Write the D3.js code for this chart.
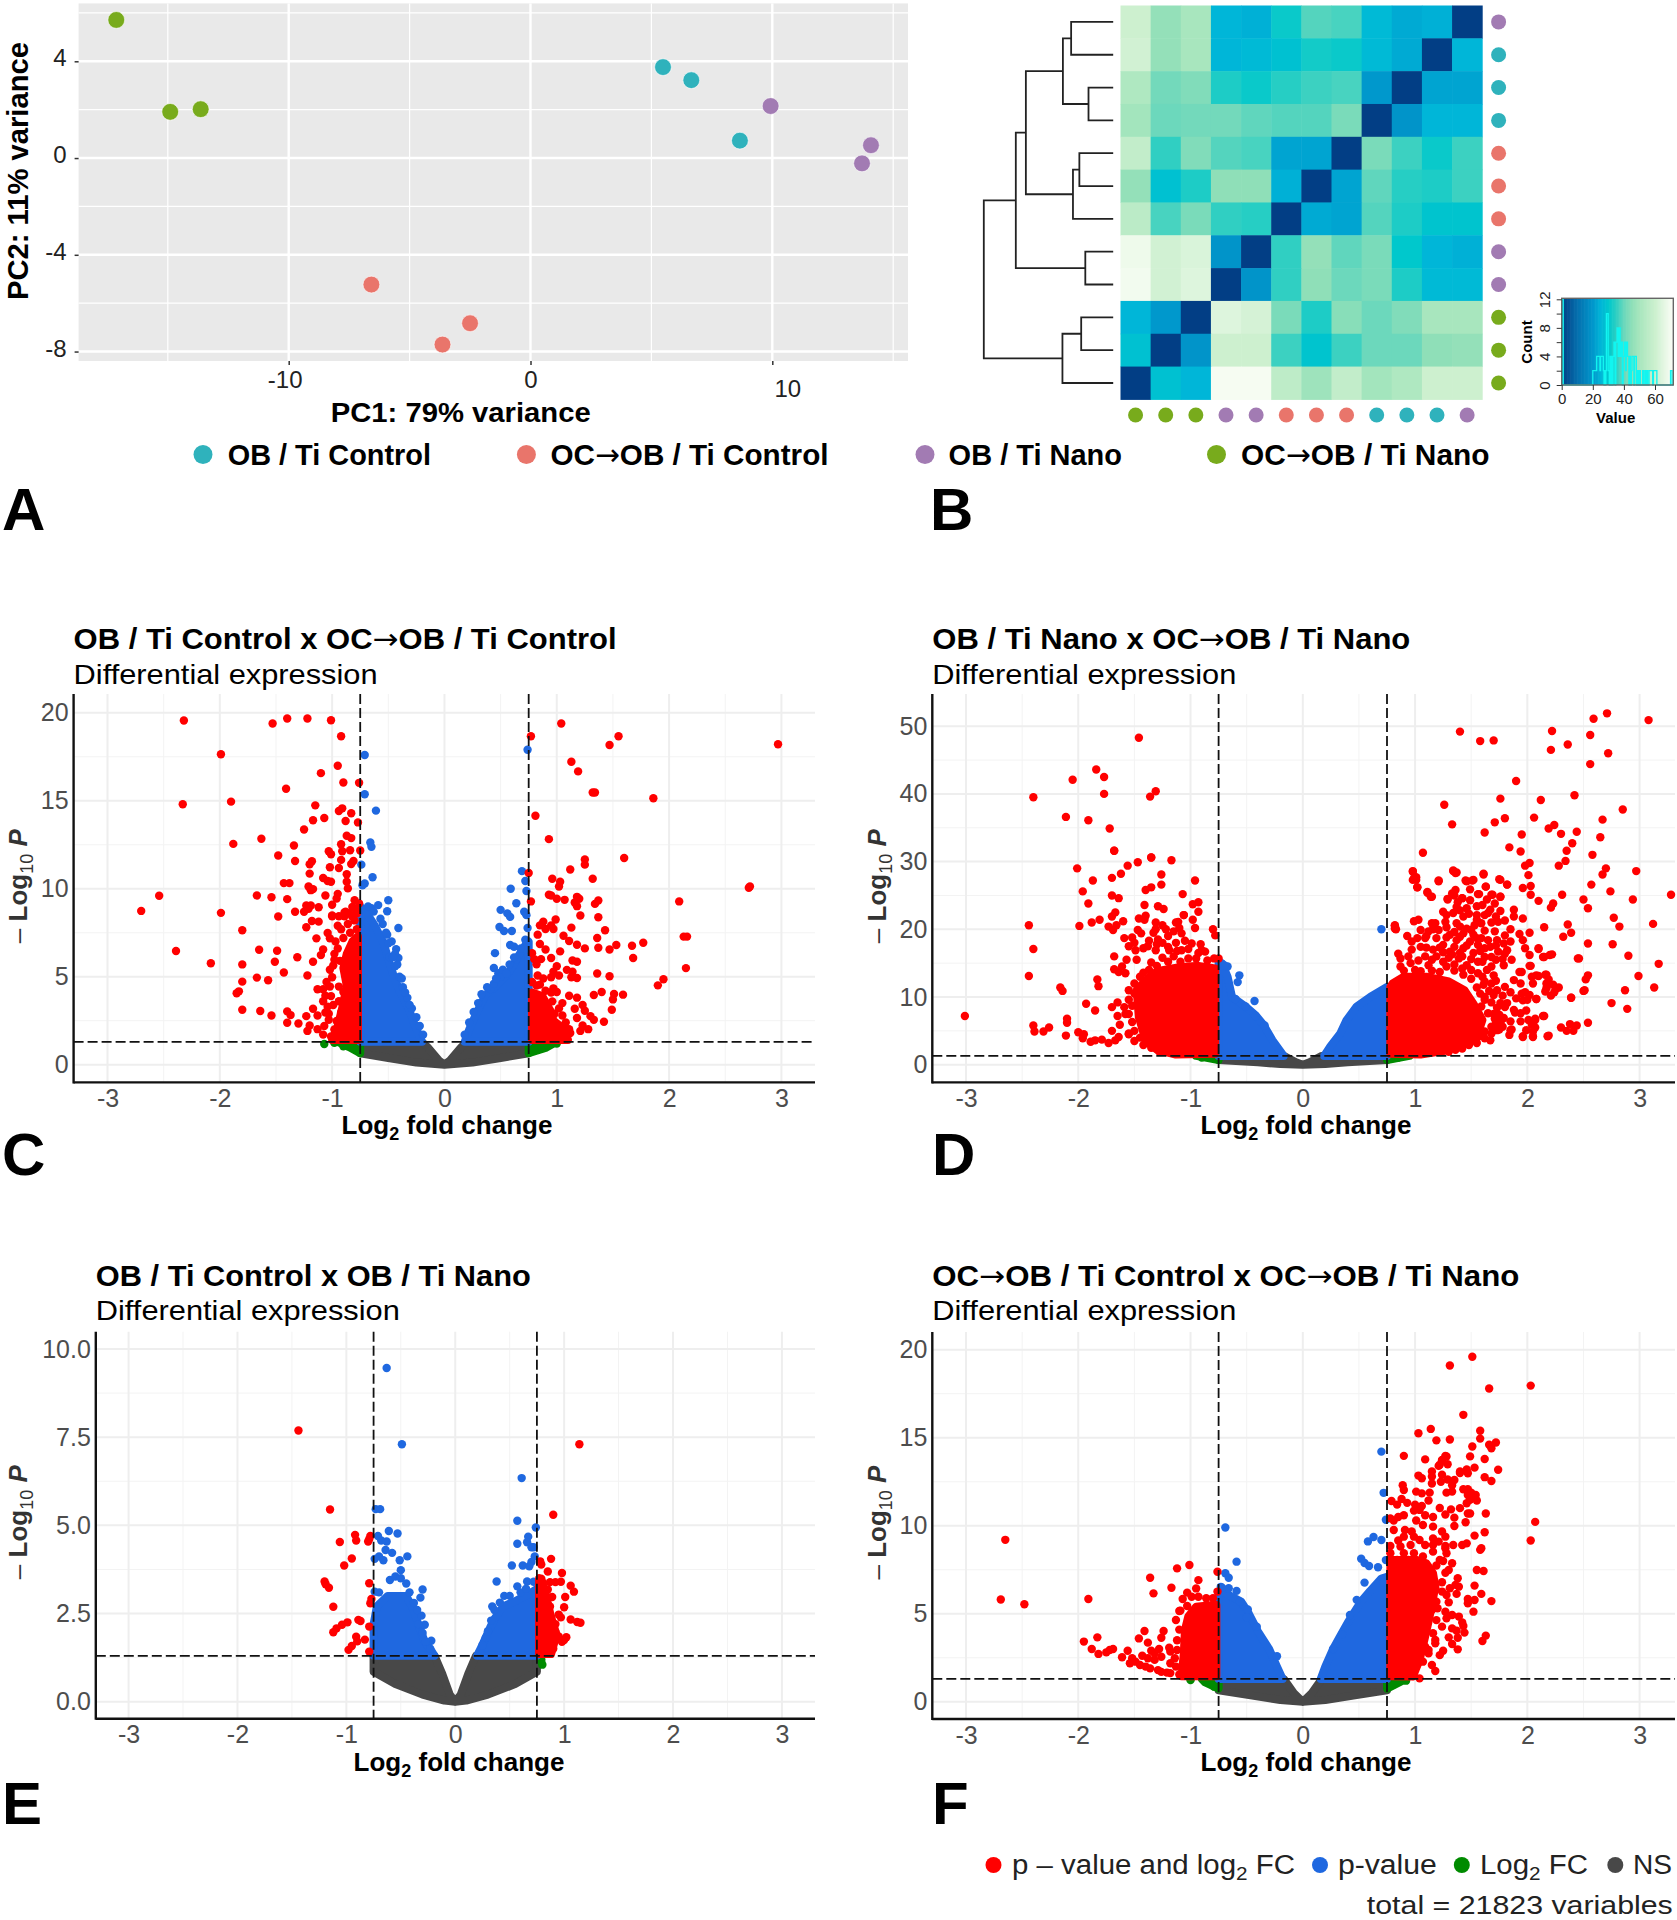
<!DOCTYPE html>
<html><head><meta charset="utf-8">
<script src="https://cdn.jsdelivr.net/npm/d3@7"></script>
<style>html,body{margin:0;padding:0;background:#fff}svg{display:block}text{font-family:"Liberation Sans",Arial,sans-serif}</style>
</head><body><svg id="fig" width="1677" height="1920"></svg>
<script>
// ---------- Panel A data ----------
const groupNames = ["OB / Ti Control","OC→OB / Ti Control","OB / Ti Nano","OC→OB / Ti Nano"];
const groupColors = ["#2FB2BC","#E9756B","#A27BB3","#78AB1C"];
const pcaGroup = [3,3,3,0,0,0,2,2,2,1,1,1];
const pc1 = [-17.13,-14.9,-13.64,5.48,6.65,8.66,9.93,14.08,13.71,-6.58,-2.5,-3.64];
const pc2 = [5.71,1.91,2.02,3.76,3.22,0.72,2.15,0.53,-0.22,-5.23,-6.83,-7.71];
const pcaXTicks = [-10,0,10];
const pcaYTicks = [-8,-4,0,4];
const pcaXMinor = [-15,-5,5,15];
const pcaYMinor = [-6,-2,2,6];
// ---------- Panel B data ----------
const heatRows = [
 [60,46,50,25,24,31,38,37,26,23,24,0],
 [61,46,50,25,26,28,32,31,26,23,0,25],
 [52,41,43,33,31,34,36,37,20,0,22,22],
 [49,40,41,41,39,38,38,42,0,19,25,25],
 [57,35,43,38,37,22,22,0,42,36,31,36],
 [46,28,33,45,45,24,0,22,39,34,33,36],
 [55,37,42,35,34,0,23,22,38,33,29,29],
 [68,61,63,19,0,35,46,39,42,30,25,24],
 [69,61,64,0,19,35,45,40,42,33,26,26],
 [25,20,0,64,62,42,33,44,40,43,50,50],
 [28,0,19,60,60,36,29,36,40,40,45,46],
 [0,28,25,70,70,56,48,57,49,52,60,60]];
const rowGroups = [2,0,0,0,1,1,1,2,2,3,3,3];
const colGroups = [3,3,3,2,2,1,1,1,0,0,0,2];
const heatStops = [0,10,20,25,30,35,40,45,50,60,70];
const heatColors = ["#023E85","#0570AE","#0098CC","#00B6D8","#00C8CC","#30CFC2","#6CD8BC","#8FDFB8","#A8E6BE","#CDF0CF","#F6FCF2"];
const dendroMerges = [["a",0,1,92],["b",2,3,54],["ab","a","b",110],["c",4,5,74],["d","c",6,88],["abd","ab","d",191],["e",7,8,61],["abde","abd","e",213],["f",9,10,70],["g","f",11,111],["root","abde","g",283]];
const keySteps = [[0,12],[1,0],[20,2],[22.5,4],[24.6,2],[25,4],[26.8,2],[27.2,0],[27.6,2],[28,0],[28.4,2],[28.8,10],[29.9,2],[30.6,0],[31,4],[31.5,0],[32,4],[32.5,0],[33,4],[33.6,6],[34.3,0],[34.8,6],[35.6,8],[36.3,4],[37,8],[37.6,4],[38.4,6],[39,0],[39.5,4],[40.2,6],[41,2],[41.5,6],[42.3,4],[43.2,0],[43.6,4],[44.2,0],[44.8,2],[45.2,4],[46.4,0],[46.8,4],[48,0],[48.6,2],[49.2,0],[50,2],[50.6,0],[52,2],[52.5,0],[53.4,2],[53.9,0],[54.7,2],[55.3,0],[56.2,2],[58.5,0],[59,2],[61.2,0],[70,2],[71,0]];
const keyXTicks = [0,20,40,60];
const keyYTicks = [0,4,8,12];
const keyYMinor = [2,6,10];
// ---------- Volcano C ----------
const cRed = [[-2.32,19.56],[-1.53,19.39],[-1.4,19.68],[-1.22,19.68],[-1.01,19.58],[-.92,18.67],[-1.99,17.64],[-.95,16.99],[-1.1,16.57],[-.9,16.04],[-.76,16.02],[-1.41,15.68],[-2.33,14.8],[-1.9,14.95],[-1.15,14.74],[-.94,14.42],[-.91,14.57],[-.83,14.29],[-1.07,14.02],[-1.17,13.89],[-.88,13.85],[-.77,13.77],[-1.25,13.37],[-.87,13.01],[-.83,12.88],[-1.63,12.84],[-1.88,12.55],[-1.34,12.46],[-.92,12.53],[-1.03,12.13],[-1.01,11.96],[-.91,12.13],[-.84,12.19],[-.75,12.17],[-1.48,11.89],[-1.33,11.58],[-1.18,11.56],[-1.2,11.39],[-.92,11.64],[-.81,11.58],[-.83,11.41],[-1.02,11.22],[-.94,11.18],[-1.2,10.86],[-.87,10.82],[-1.08,10.61],[-1.04,10.44],[-1.01,10.4],[-1.43,10.32],[-1.38,10.32],[-.87,10.4],[-1.21,10.13],[-1.17,9.98],[-.86,10.02],[-1.19,9.92],[-2.54,9.6],[-1.67,9.62],[-1.54,9.52],[-1.4,9.41],[-1.06,9.62],[-.95,9.71],[-.96,9.45],[-.8,9.35],[-1,9.09],[-2.7,8.74],[-1.99,8.63],[-1.48,8.42],[-1.23,9.05],[-1.19,9.05],[-1.12,8.95],[-1.33,8.69],[-1.25,8.69],[-1.21,8.86],[-.88,8.69],[-.82,8.96],[-.76,9.17],[-1,8.48],[-.89,8.44],[-.85,8.59],[-.79,8.8],[-1.8,7.64],[-2.39,6.46],[-2.08,5.77],[-1.65,6.53],[-1.49,6.48],[-1.31,6.11],[-1.51,5.85],[-1.8,5.7],[-1.43,5.24],[-1.8,4.72],[-1.67,4.95],[-1.57,4.8],[-1.83,4.17],[-1.85,4.06],[-1.8,3.12],[-1.64,3.05],[-1.54,2.8],[-1.4,3.03],[-1.37,2.82],[-1.4,2.38],[-1.3,2.34],[-1.23,2.76],[-1.2,2.23],[-1.22,1.92],[-1.13,2.02],[-1.08,1.71],[-1.01,1.6],[-1.23,7.81],[-1.14,7.18],[-1.04,7.49],[-1.02,7.18],[-1.08,6.55],[-1.1,6.23],[-1.18,8.17],[-1.12,8.13],[-1,8.44],[-.94,8.44],[-.89,8.65],[-1.17,5.85],[-.98,5.96],[-.99,5.64],[-1.22,5.07],[-1.13,4.29],[-1.08,4.29],[-1,4.97],[-1.02,4.44],[-1.06,3.92],[-.94,4.44],[-.9,4.13],[-1.08,3.61],[-.99,3.39],[-1.17,3.18],[-1.13,2.8],[-1.06,2.97],[-.94,3.61],[-.92,2.97],[-1.03,2.55],[-.96,2.48],[-.95,7.9],[-.86,8],[-.8,8.2],[-.78,7.7],[-.84,7.5],[-.9,7.2],[-.95,6.6],[-.78,8.6],[-.82,8.4],[-.92,7.7],[-.97,7],[-.98,6.3],[-.93,5.9],[-1.02,5.4],[-1.05,4.7],[-1.01,3.9],[-1.04,3.3],[-1.03,2.9],[-1.07,2.2],[-.98,2],
 [1.04,19.39],[.77,18.67],[1.55,18.67],[1.47,18.17],[2.97,18.21],[1.13,17.22],[1.19,16.67],[1.32,15.47],[1.34,15.47],[1.86,15.14],[.81,14.15],[.93,12.82],[1.6,11.75],[1.25,11.66],[1.25,11.37],[1.12,11.09],[.75,10.9],[.96,10.57],[1.32,10.57],[1.03,10.4],[1.02,10.13],[2.72,10.13],[2.71,10.06],[.93,9.66],[.95,9.62],[1,9.43],[1.07,9.37],[1.18,9.54],[1.2,9.43],[1.16,9.22],[1.18,9.01],[1.21,8.48],[1.37,9.33],[1.34,9.14],[1.37,8.38],[.77,9.28],[2.09,9.28],[.99,8.25],[.95,7.92],[.88,8.13],[.85,7.92],[.97,7.71],[.9,7.71],[.83,7.39],[1.13,7.79],[1.43,7.64],[1.06,7.33],[1.11,7.03],[1.36,7.2],[2.13,7.28],[2.16,7.28],[1.77,6.93],[1.53,6.8],[1.67,6.76],[1.18,6.82],[1.25,6.61],[1.37,6.65],[1.47,6.55],[.78,6.34],[.85,6.86],[.9,6.55],[1.03,6.44],[.95,6.06],[.82,5.71],[1.14,5.92],[1.18,5.85],[1.68,6.06],[2.15,5.49],[1.36,5.18],[1.47,5.03],[1.95,4.86],[1.9,4.51],[1,5.6],[.97,5.28],[1.09,5.39],[1.14,5.28],[.95,4.97],[.83,5.07],[1.02,5.07],[1.13,4.97],[1.18,4.93],[.85,4.55],[.97,4.34],[1,4.13],[1.11,3.92],[1.18,3.81],[1.4,4.13],[1.33,3.96],[1.51,4.02],[1.5,3.71],[1.59,3.98],[1.49,3.12],[1.23,3.39],[1.25,3.07],[1.16,3.18],[1.3,2.76],[1.33,2.55],[1.42,2.44],[1.18,2.65],[1.23,2.23],[1.28,2.02],[1.21,1.92],[1.11,2.02],[1.05,2.8],[1.08,2.4],[1.12,1.8],[1.02,3.2],[.96,3.6],[.9,4.2],[.82,4.5],[.78,4.7],[.95,4.1],[.88,4.9],[.98,2.9],[1.05,3.5],[.8,6],[.86,6]];
const cBlue = [[-.61,14.44],[-.71,17.6],[-.71,15.37],[-.66,12.63],[-.65,12.38],[-.74,11.37],[-.64,10.65],[-.71,10.3],[-.73,10.2],[-.5,9.35],[-.59,9.07],[-.51,8.72],[-.65,8.9],[-.41,7.77],[-.51,7.39],[-.43,6.57],[-.41,6.06],[-.49,6.12],[-.44,5.6],[-.57,8.3],[-.52,7.5],[-.47,7],[-.44,6.3],[-.42,5.7],[-.4,5],[-.37,4.4],[-.33,3.8],[-.29,3.2],[-.25,2.7],[-.22,2.2],[-.19,1.7],[-.55,8],[-.63,8.7],[-.68,9],[-.5,6.9],[-.46,6.1],[-.38,4.9],[-.35,4.1],[-.31,3.4],
 [.69,11],[.72,10.44],[.73,9.87],[.59,10],[.64,9.18],[.5,8.8],[.56,8.6],[.585,8.4],[.71,8.69],[.73,8.5],[.49,7.83],[.53,7.6],[.6,7.6],[.74,7.77],[.585,6.8],[.45,6.34],[.64,6],[.62,6.7],[.44,5.5],[.48,5.2],[.41,4.3],[.74,17.9],[.18,1.7],[.22,2.4],[.26,3],[.3,3.5],[.33,4],[.38,4.4],[.44,4.6],[.5,5],[.52,5.4],[.58,5.7],[.62,6.1],[.68,6.6],[.72,7.1],[.46,4.9],[.55,5.2]];
const cGreen = [[-1.07,1.18],[-.98,1.24],[-.9,1.05],[1,1.2],[.92,1.1]];
const cRedMass = [[[-.77,1.4],[-1,1.4],[-.95,2.2],[-.9,3.5],[-.87,4.5],[-.9,5.5],[-.87,6.3],[-.82,7],[-.77,7.3]],[[.78,1.4],[1.1,1.4],[1.07,2],[.97,2.5],[.95,3],[.87,3.9],[.78,4.1]]];
const cBlueMass = [[[-.75,1.3],[-.2,1.3],[-.26,2.2],[-.32,3.2],[-.4,4.2],[-.46,5.2],[-.5,6],[-.54,6.9],[-.62,7.9],[-.68,8.5],[-.75,9]],[[.18,1.3],[.22,2],[.29,3],[.36,3.9],[.46,4.5],[.54,5],[.6,5.5],[.66,6.2],[.72,6.8],[.75,7],[.75,1.3]]];
const cGreenMass = [[[-.75,1.3],[-.95,1.3],[-.85,1],[-.75,.65]],[[.75,1.3],[1,1.3],[.9,.95],[.75,.65]]];
const cGrayMass = [[[-.75,1.3],[-.2,1.3],[-.15,1],[-.05,.25],[0,0],[.05,.25],[.15,1],[.2,1.3],[.75,1.3],[.75,.65],[.5,.38],[.25,.12],[0,0],[-.25,.12],[-.5,.38],[-.75,.65]]];
// ---------- Volcano D ----------
const dRed = [[1.4,49.2],[1.58,47.8],[1.7,47.9],[2.22,49.3],[2.59,51.1],[2.71,51.9],[3.08,50.9],[2.56,48.7],[2.36,47.3],[2.21,46.5],[2.72,46],[2.56,44.4],[1.9,41.9],[2.42,39.8],[1.76,39.3],[2.12,39.1],[1.26,38.4],[2.85,37.7],[2.06,36.5],[1.8,36.4],[1.71,35.8],[2.67,36.2],[1.33,35.5],[2.24,35.4],[2.19,34.9],[1.62,34.3],[2.44,34.4],[2.3,34.1],[1.95,34],[2.65,33.6],[2.4,32.7],[1.84,32.1],[2.35,31.6],[1.94,31.5],[1.07,31.3],[2.58,31],[2.34,30.1],[2.28,29.4],[2.02,29.8],[1.98,29.4],[2.7,29],[2.97,28.6],[1.34,28.6],[1.36,28.3],[.98,28.5],[1.61,28.1],[2.67,28.1],[.99,27.5],[1.01,27.3],[2.01,28],[1.21,27.1],[1.46,27.1],[1.51,27.2],[1.76,27.3],[1.82,26.6],[1.63,26.3],[1.96,26.1],[2.03,26.4],[2.57,26.6],[1.02,26.2],[2.74,25.6],[3.28,25.1],[1.56,25.2],[1.69,25.1],[1.76,24.8],[1.11,25.5],[1.15,24.8],[2.03,25.1],[2.31,25.1],[1.29,24.5],[1.35,25],[1.42,24.6],[2.1,24.2],[2.5,24.4],[2.94,24.4],[2.54,23.1],[2.23,23.8],[2.21,23.2],[2.77,21.7],[3.12,20.8],[2.36,20.7],[2.82,20.4],[2.15,20.3],[.82,20.5],[.83,20],[2.39,19.5],[2.32,18.9],[2.02,19.5],[2.76,17.8],[2.54,17.9],[2.1,17.2],[2.9,16.1],[2.46,15.7],[2.2,16.2],[2.15,15.9],[3.17,14.9],[2.03,14.6],[2.54,13.2],[2.52,12.6],[2.99,13.1],[1.93,13.7],[2.08,13.2],[2.17,13.3],[2.19,12.6],[3.13,11.4],[2.87,11],[2.5,10.9],[2.26,11.3],[2.17,11.3],[2.24,10.7],[2.39,9.9],[2.75,9.1],[2.89,8.25],[2.08,9.7],[1.98,10.7],[1.96,9.5],[2.54,6.2],[2.38,6],[2.3,5.5],[2.35,5],[2.44,5.8],[2.41,5],[2.15,7.2],[2.07,6.6],[2.07,5.5],[2.05,4.2],[1.96,4.2],[1.84,4.4],[2.18,4.2],[1.99,8],[1.89,7.7],[1.79,6.9],[1.75,5.2],[1.86,5.2],
 [.98,28.6],[.98,27.3],[1.01,27.7],[1.02,26.2],[1.21,27.2],[1.34,28.7],[1.37,28.4],[1.45,27.2],[1.52,27.3],[1.61,28.2],[1.75,27.4],[1.82,26.6],[1.11,25.4],[1.14,24.8],[1.36,25.8],[1.33,25.3],[1.29,24.4],[1.49,25.9],[1.63,26.3],[1.57,25.2],[1.68,25.1],[1.76,24.8],[1.42,24.6],[1.49,24.3],[1.25,22.6],[1.28,22.1],[1.37,23.3],[1.46,23.1],[1.6,23.6],[1.71,23.8],[1.67,22.9],[1.76,22.7],[1.88,22.9],[1.55,22.1],[1.62,22.1],[1.43,21.9],[1.34,22.4],[.82,20.6],[.82,20.1],[.99,21.2],[1.03,21.4],[1.15,20.9],[1.18,20.9],[1.28,20.3],[1.37,20.9],[1.46,20.1],[1.53,20.6],[1.59,20.9],[1.74,21.1],[1.8,21.3],[1.88,21.9],[1.96,21.6],[1.05,19.9],[1.12,19.7],[1.21,19.9],[1.31,19.2],[1.43,19.4],[1.52,19.2],[1.59,18.7],[1.71,19.7],[1.09,18.7],[1.19,18.7],[1.25,17.7],[1.37,18.4],[1.49,18.2],[1.56,17.7],[1.67,17.4],[1.79,17.9],[1.85,18.2],[.97,18.2],[.97,17],[1.05,17.4],[1.16,17],[1.31,16.7],[1.43,17.2],[1.52,16.5],[1.62,15.9],[1.74,16.7],[.85,16.4],[.87,15.7],[.94,16],[1.09,16],[1.19,16],[1.25,15.2],[1.39,15.7],[1.46,14.7],[1.56,15.2],[1.68,14.5],[1.82,16.9],[1.96,18.4],[1.98,17.2],[2.02,16.2],[.87,14.5],[.96,15],[1.12,14.7],[1.28,14.5],[1.43,13.3],[1.56,13.5],[1.64,14],[1.79,14.7],[1.86,15.5],[2.1,17.1],[2.14,15.9],[2.22,16.3],[2.02,14.6],[2.45,15.7],[1.95,13.7],[2.04,13],[2.1,13.1],[2.16,13.3],[1.94,12],[2.05,12],[2.17,12],[2.23,11.8],[2.28,11.4],[1.61,11.8],[1.68,12],[1.73,11],[1.8,11.5],[1.88,12.5],[1.95,10.5],[2.02,10.3],[2.16,10.8],[2.21,10.2],[2,9.6],[2.08,9.7],[2.39,9.9],[2.51,11],[1.76,9.1],[1.82,9.1],[1.88,8.1],[1.94,7.6],[2.14,7.2],[2.07,6.8],[2.01,6.6],[2.04,5.9],[1.77,6.6],[1.85,6.4],[1.85,5.1],[1.94,6.4],[1.99,5.1],[2.05,4.9],[1.96,4.1],[2.05,4.1],[2.19,4.3],[1.73,5.1],[1.67,3.6],[1.59,4.4],[1.52,4.1],[1.48,2.9],[1.36,2.2],
 [.9,13.9],[1,14],[1.05,13.8],[1.15,13.9],[1.22,13.7],[1.35,13.9],[1.42,14.2],[1.5,14],[1.6,13],[1.7,13.2],[1.35,14.8],[1.5,15.6],[1.6,15.2],[1.72,15.5],[1.03,15.4],[1.15,15.5],[1.3,15.8],[1.42,16],[1.33,16.3],[1.25,16.6],[1.4,16.5],[1.58,16.8],[1.68,15.9],[1.78,15.6],[1.1,17.3],[1.22,17.3],[1.35,17.4],[1.46,17.6],[1.62,17.2],[1.72,17.6],[1.4,18.9],[1.28,18.8],[1.55,18.7],[1.65,18.4],[1.35,19.6],[1.5,19.9],[1.62,19.8],[1.4,20.4],[1.27,21.1],[1.55,21.4],[1.68,21],[1.48,22.3],[1.4,22.8],[1.65,22.4],[1.72,21.9],[1.38,24],[1.55,23.4],[1.64,24.4],[1.1,19],[1.16,20],[.93,19],[1.02,18.7],[1.8,16.4],[1.73,18.4],[1.8,19.1],[1.93,19.3],[1.85,20],[1.58,10.5],[1.62,9.6],[1.59,8.6],[1.65,7.6],[1.71,6.8],[1.68,5.6],[1.62,4.9],[1.56,4.1],[1.49,3.4],[1.37,2.7],[1.25,2.2],[1.62,10],[1.68,9.2],[1.73,8.4],[1.7,7.5],[1.75,7.4],[1.8,8.5],[1.66,10.9],[1.7,10.3],[1.78,10.2],[1.85,10.7],[1.9,9.8],[1.72,6],[1.78,5.6],[1.68,4.6],[1.62,3.9],[1.55,3.2],[1.42,2.4],[1.3,1.9],[1.5,12.7],[1.62,12.3],[1.72,12.4],[1.55,11.4],
 [-3.01,7.2],[-2.44,20.6],[-2.4,17.1],[-2.44,13.1],[-2.16,11.4],[-2.14,10.9],[-1.83,12.6],[-1.82,11.6],[-1.93,9],[-1.85,8],[-2.1,6.8],[-2.1,6.2],[-2.4,5.8],[-2.39,4.9],[-2.31,4.9],[-2.26,5.5],[-2.11,4.3],[-2,4.8],[-1.95,4.5],[-1.96,3.9],[-1.89,3.4],[-1.85,3.6],[-1.79,3.7],[-1.73,3.2],[-1.67,3.6],[-1.64,4.1],[-1.55,4.6],[-1.7,5],[-1.63,5.9],[-1.7,8.5],[-1.65,9.2],[-1.59,8.5],[-1.58,7.5],[-1.65,7.2],[-1.68,16],[-1.57,15.5],[-1.48,15.5],[-1.68,14.1],[-1.61,14.5],[-1.58,13.5],[-1.64,13.7],[-1.59,18.7],[-1.52,18.8],[-1.47,19.9],[-1.44,19.4],[-1.37,18.3],[-1.29,18.5],[-1.49,16.9],[-1.42,17.2],[-1.31,16.9],[-1.19,16.9],[-1.08,16.9],[-1.13,18],[-1.08,19.4],[-.99,17.9],[-.91,17.8],[-.87,16.7],[-.93,16.5],[-1.02,15.7],[-1.09,15.2],[-.79,15.7],[-.75,15.7],[-1.99,20.5],[-1.88,21],[-1.81,21.4],[-1.73,20.4],[-1.69,19.9],[-1.66,20.6],[-1.6,21.2],[-1.7,21.9],[-1.67,22.5],[-1.46,21.6],[-1.41,21.4],[-1.4,22],[-1.31,21],[-1.31,20],[-1.25,20.6],[-1.22,20],[-1.13,21],[-1.11,21.1],[-1.06,22.1],[-.98,21.4],[-.96,20.2],[-.8,20],[-.78,19.1],[-1.91,23.8],[-1.96,25.6],[-1.87,27.2],[-2.01,29],[-1.7,25],[-1.64,24.6],[-1.7,27.6],[-1.62,28.2],[-1.56,29.4],[-1.47,29.9],[-1.35,30.6],[-1.17,30.2],[-1.68,31.6],[-1.4,25.8],[-1.35,26.2],[-1.26,28.1],[-1.26,26.6],[-1.41,23.6],[-1.29,23.4],[-1.24,23],[-1.07,25.2],[-.96,27.2],[-.98,23.7],[-.93,24],[-.93,22.6],[-1.06,22.1],[-1.46,48.3],[-1.84,43.6],[-1.77,42.5],[-2.05,42.1],[-1.77,40],[-1.31,40.4],[-1.36,39.6],[-2.4,39.5],[-2.11,36.6],[-1.91,36.1],[-1.72,34.9],[-1.68,31.6],[-1.35,30.6],
 [-1.5,5],[-1.52,6.3],[-1.55,7.5],[-1.52,8.7],[-1.55,9.6],[-1.5,10.5],[-1.55,11],[-1.5,12],[-1.45,13],[-1.37,14],[-1.42,13.6],[-1.3,14.6],[-1.2,15.2],[-1.35,15.1],[-1.25,15.8],[-1.15,16],[-1.45,4],[-1.4,3.2],[-1.35,2.5],[-1.28,2],[-1.5,3.5],[-1.55,4.5],[-1.42,2.9],[-1.2,17.4],[-1.3,17.8],[-1.38,17.5],[-1.25,18],[-1.05,18.3],[-1.02,17.1],[-.9,16.9],[-.95,15.7],[-.85,15.4],[-1.12,16.8],[-1.2,19],[-1.33,19.5],[-1.5,18],[-1.55,17.5],[-1.1,20.2],[-1.15,19.7]];
const dBlue = [[.7,20],[-.67,14.5],[-.565,13.2],[-.58,12.2],[-.43,9.4],[-.6,9.7],[-.51,8.6],[-.42,7.2],[-.34,5.8],[-.7,14.7]];
const dGreen = [[-.9,1.05],[.85,1.05]];
const dRedMass = [[[.78,1.6],[1.05,1.5],[1.25,2],[1.42,2.9],[1.55,4.1],[1.6,6.6],[1.52,9],[1.44,11],[1.3,12.3],[1.1,13],[.9,13],[.8,12],[.78,11.5]],[[-.78,1.6],[-1.13,1.5],[-1.3,2.2],[-1.4,3.6],[-1.46,7],[-1.48,11],[-1.4,12.5],[-1.3,13.8],[-1.1,14.4],[-.93,14.6],[-.78,14.2]]];
const dBlueMass = [[[.75,1.3],[.19,1.3],[.245,2.7],[.334,4.6],[.39,6.6],[.48,8.6],[.6,10],[.72,11.2],[.75,11.5]],[[-.75,1.3],[-.17,1.3],[-.27,3.6],[-.35,5.9],[-.42,7.3],[-.51,8.6],[-.63,10],[-.67,13],[-.72,15],[-.75,15.2]]];
const dGreenMass = [[[-.75,1.3],[-.95,1.3],[-.75,.7]],[[.75,1.3],[.95,1.3],[.75,.7]]];
const dGrayMass = [[[-.75,1.3],[-.17,1.3],[-.06,.35],[0,0],[.06,.35],[.17,1.3],[.75,1.3],[.75,.7],[.4,.35],[.2,.1],[0,0],[-.2,.1],[-.4,.35],[-.75,.7]]];
// ---------- Volcano E ----------
const eRed = [[-1.44,7.69],[1.14,7.3],[-1.15,5.45],[.9,5.3],[-.92,4.73],[-.91,4.57],[-1.06,4.53],[-.78,4.7],[-.8,4.54],[-.79,4.61],[-.95,4.06],[-1.02,3.86],[-1.2,3.41],[-1.19,3.33],[-1.16,3.23],[-.79,3.36],[-.77,2.91],[-.78,2.79],[-1.12,2.69],[-.89,2.32],[-.87,2.29],[-.99,2.25],[-1.04,2.18],[-1.09,2.08],[-1.12,1.97],[-.79,2.13],[-.91,1.84],[-.9,1.71],[-.83,1.76],[-.95,1.58],[-.98,1.47],[-.79,1.42],
 [.78,3.98],[.79,3.89],[.88,4.05],[.85,3.69],[.98,3.65],[.79,3.49],[.87,3.39],[.92,3.39],[.97,3.4],[.79,3.35],[.78,3.18],[1.06,3.29],[1.09,3.12],[.85,3.18],[.83,3.02],[.89,2.97],[1.01,2.97],[.8,2.76],[.87,2.7],[1,2.68],[.78,2.6],[.83,2.5],[.88,2.39],[.95,2.47],[.97,2.39],[1.06,2.33],[1.12,2.26],[1.15,2.24],[.92,2.2],[.9,2.1],[.92,1.98],[.95,1.85],[1.02,1.83],[1,1.75],[.98,1.7],[.88,1.6],[.9,1.5]];
const eBlue = [[-.63,9.46],[-.49,7.3],[-.73,5.46],[-.69,5.46],[-.61,4.84],[-.53,4.77],[-.71,4.7],[-.68,4.57],[-.63,4.54],[-.64,4.3],[-.58,4.22],[-.44,4.12],[-.51,4.01],[-.74,4.05],[-.7,4.12],[-.66,4.01],[-.5,3.73],[-.3,3.18],[-.32,2.95],[-.74,3.12],[-.31,2.44],[-.28,2.18],[-.22,1.73],[-.7,3.1],[-.6,3.45],[-.55,3.55],[-.5,3.5],[-.45,3.35],[-.42,3.1],[-.38,2.8],[-.35,2.6],[-.34,2.2],[-.3,1.95],[-.27,1.7],[-.23,1.5],
 [.61,6.34],[.57,5.13],[.74,4.94],[.67,4.68],[.66,4.52],[.7,4.38],[.57,4.48],[.72,4.38],[.52,3.86],[.62,3.86],[.7,3.96],[.68,3.84],[.73,4.12],[.38,3.41],[.66,3.41],[.57,3.27],[.34,2.7],[.41,2.81],[.28,1.81],[.25,1.6],[.3,2],[.33,2.3],[.36,2.6],[.45,3],[.5,3],[.6,3.1],[.65,3.2],[.72,3.4]];
const eGreen = [[.79,1.13],[.79,1.2],[.8,1.05]];
const eGray = [[-.73,1.18]];
const eRedMass = [[[.77,1.35],[.88,1.35],[.93,1.9],[.88,2.4],[.85,2.8],[.8,3.4],[.77,3.5]]];
const eBlueMass = [[[-.75,1.3],[-.75,2.2],[-.72,2.7],[-.62,3],[-.45,3],[-.38,2.6],[-.34,2.2],[-.28,1.7],[-.22,1.45],[-.19,1.3]],[[.75,1.3],[.2,1.3],[.24,1.55],[.32,2.1],[.36,2.35],[.44,2.7],[.55,2.85],[.7,3.1],[.75,3.2]]];
const eGreenMass = [];
const eGrayMass = [[[-.75,1.3],[-.19,1.3],[-.12,.8],[-.05,.2],[0,0],[.05,.2],[.12,.8],[.19,1.3],[.75,1.3],[.75,.85],[.55,.5],[.3,.2],[.1,.03],[0,0],[-.1,.03],[-.3,.2],[-.55,.5],[-.75,.85]]];
// ---------- Volcano F ----------
const fRed = [[1.51,19.6],[1.31,19.1],[1.66,17.8],[2.03,17.96],[1.43,16.3],[1.14,15.5],[1.03,15.25],[1.58,15.4],[1.31,14.9],[1.19,14.85],[1.58,14.95],[1.72,14.73],[1.66,14.6],[1.68,14.4],[1.51,14.5],[.9,13.97],[1.09,13.77],[1.49,13.94],[1.62,13.79],[1.27,13.97],[1.24,13.74],[1.22,13.47],[1.53,13.3],[1.46,13.2],[1.4,13],[1.74,13.18],[1.62,12.76],[1.68,12.54],[2.07,10.22],[2.03,9.16],
 [1.24,13.7],[1.28,13.93],[1.21,13.4],[1.29,13.49],[1.15,13.08],[1.4,13.08],[1.47,12.98],[1.03,12.85],[1.06,12.7],[1.24,12.9],[1.15,12.8],[1.15,12.4],[1.23,12.5],[1.29,12.63],[1.35,12.6],[1.33,12.3],[.89,12.3],[.9,12.03],[1.01,11.94],[1.06,11.84],[1.13,11.88],[1.28,11.88],[1.33,11.94],[1.43,12.07],[1.47,12.07],[1.5,11.88],[1.54,11.75],[1.47,11.75],[1.49,11.47],[1.55,11.43],[1.46,11.28],[.79,11.41],[.88,11.52],[.84,11.2],[.93,11.3],[1,11.2],[1.06,11.12],[1.12,11.43],[.99,10.86],[1.04,10.9],[1.22,11.01],[1.32,10.93],[1.4,11],[1.63,10.7],[1.49,10.7],[1.47,10.7],[.78,10.42],[.81,10.3],[.9,10.6],[.85,10.5],[1.01,10.3],[1.09,10.6],[1.16,10.5],[1.27,10.64],[1.35,10.46],[1.45,10.2],[1.35,9.99],[.81,9.76],[.91,9.76],[.97,9.67],[1.07,10.04],[1.16,9.95],[1.24,9.67],[1.27,9.38],[1.62,9.63],[1.53,9.44],[.9,9.38],[.99,9.38],[.85,9.16],[1.04,9.19],[1.16,9.28],[1.21,9.1],[.78,8.85],[.87,8.82],[.96,8.91],[1.09,8.91],[1.16,8.91],[1.27,8.85],[1.34,8.91],[1.42,8.91],[1.46,9],[1.59,8.72],[1.58,8.63],[.78,8.44],[.9,8.44],[.99,8.44],[1.07,8.25],[1.16,8.53],[1.28,8.44],[1.27,8.72],[.84,8.06],[.94,8.06],[1.22,8.06],[1.33,7.87],[1.19,7.74],[1.25,8],[1.07,7.77],[1.12,7.49],[1.3,7.49],[1.27,7.33],[1.55,7.49],[1.61,7.43],[1.15,7.1],[1.38,7.02],[1.24,6.79],[1.36,6.64],[1.39,6.54],[1.53,6.6],[1.18,6.45],[1.31,6.45],[1.24,6.26],[1.28,6.07],[1.37,6.13],[1.59,6.13],[1.19,5.69],[1.3,5.65],[1.47,5.84],[1.47,5.6],[1.53,5.78],[1.68,5.72],[1.52,5.12],[1.2,5.31],[1.15,5.21],[1.27,5.12],[1.28,4.74],[1.33,4.93],[1.39,4.84],[1.42,4.51],[1.43,4.31],[1.19,4.64],[1.24,4.27],[1.33,4.17],[1.37,4.04],[1.44,3.93],[1.3,3.66],[1.38,3.64],[1.63,3.76],[1.6,3.45],[1.16,3.89],[1.18,3.51],[1.09,3.13],[1.18,3.32],[1.25,2.9],[1.38,2.98],[1.33,3.28],[1.22,2.65],[1.12,2.94],[1.15,2.09],[1.18,1.75],[1.07,2.28],[1.04,1.33],[1.12,2.75],
 [-2.65,9.2],[-2.69,5.81],[-2.48,5.54],[-1.91,5.84],[-1.12,7.58],[-1.01,7.77],[-.76,7.39],[-1.36,7.05],[-.93,6.91],[-1.17,6.48],[-.95,6.44],[-1.33,6.16],[-1.03,6.2],[-.76,6.26],[-1.07,5.84],[-.99,5.97],[-.93,5.97],[-.86,5.88],[-.8,5.88],[-1.09,5.18],[-1.1,5.16],[-1.03,5.44],[-1.13,4.65],[-.81,5.4],[-.78,5.12],[-1.24,4.02],[-1.26,3.64],[-1.41,4.02],[-1.46,3.6],[-1.38,3.36],[-1.83,3.66],[-1.95,3.42],[-1.88,3],[-1.82,2.72],[-1.75,2.81],[-1.72,2.94],[-1.69,3],[-1.56,2.9],[-1.61,2.53],[-1.19,3.07],[-1.18,2.85],[-1.35,2.9],[-1.28,3],[-1.32,2.75],[-1.26,2.56],[-1.12,2.94],[-1.14,2.47],[-1.43,2.62],[-1.38,2.47],[-1.52,2.47],[-1.54,2.19],[-1.49,2.28],[-1.45,2.09],[-1.4,2],[-1.32,2.38],[-1.36,1.9],[-1.29,1.8],[-1.26,1.7],[-1.21,1.66],[-1.18,2.19],[-1.18,1.63],[-1.1,4.1],[-1.12,3.5],[-1.13,2],[-1.1,1.55]];
const fBlue = [[-.69,9.9],[-.59,7.96],[-.69,7.3],[-.66,7.05],[-.73,6.53],[-.66,6.45],[-.59,6.3],[-.72,6.48],[-.56,5.69],[-.49,5.25],[-.5,4.8],[-.41,4.27],[-.23,2.59],
 [.7,14.21],[.72,11.87],[.74,10.34],[.58,9.11],[.63,9.36],[.7,9.19],[.52,8.13],[.55,7.88],[.74,8.05],[.59,7.71],[.67,7.64],[.72,6.77],[.55,6.77],[.48,5.79],[.42,4.93],[.35,3.82],[.27,3]];
const fGreen = [[-1,1.23],[-.84,1.11],[-.79,.86],[.8,.95],[.92,1.2],[.85,1.12]];
const fRedMass = [[[-.77,1.45],[-1.08,1.45],[-1.06,2.75],[-1.05,4.08],[-1.02,4.84],[-.95,5.4],[-.8,5.5],[-.77,5.5]],[[.78,1.45],[.98,1.43],[1.04,2.37],[1.09,3.7],[1.13,4.84],[1.18,6.54],[1.16,7.3],[1.1,7.87],[1.01,8.06],[.78,8.06]]];
const fBlueMass = [[[-.75,1.3],[-.18,1.3],[-.23,2],[-.3,3],[-.4,4],[-.48,5],[-.55,5.7],[-.7,6.2],[-.75,6.2]],[[.75,1.3],[.16,1.3],[.2,2],[.27,3],[.33,3.7],[.4,4.5],[.47,5.2],[.52,5.7],[.6,6.3],[.7,7],[.75,7.1]]];
const fGreenMass = [[[-.75,1.3],[-.9,1.3],[-.87,1.1],[-.75,.75]],[[.75,1.3],[.92,1.3],[.75,.75]]];
const fGrayMass = [[[-.75,1.3],[-.17,1.3],[-.08,.5],[0,0],[.08,.5],[.17,1.3],[.75,1.3],[.75,.65],[.45,.35],[.2,.1],[0,0],[-.2,.1],[-.45,.35],[-.75,.65]]];
// ---------- Volcano shared ----------
const fcTicks = [-3,-2,-1,0,1,2,3];
const fcMinor = [-2.5,-1.5,-.5,.5,1.5,2.5];
const fcCut = [-.75,.75];
const pCut = 1.3;
const classColors = {red:"#FF0000",blue:"#1F68E0",green:"#008B00",gray:"#484848"};
const volcanoLegend = [["p – value and log","2"," FC","red"],["p-value","","","blue"],["Log","2"," FC","green"],["NS","","","gray"]];

// ================= drawing =================
const svg = d3.select("#fig");
function fit(t,w){ if(w) t.attr("textLength",w).attr("lengthAdjust","spacingAndGlyphs"); return t; }
function txt(x,y,s,o={}){
  const t = svg.append("text").attr("x",x).attr("y",y)
    .attr("font-size",o.size||24).attr("font-weight",o.bold?"bold":"normal").attr("fill",o.fill||"#000").attr("text-anchor",o.anchor||"start");
  s.split(/(→)/).forEach(p=>{
    if(!p) return;
    const sp=t.append("tspan").text(p);
    if(p==="→") sp.attr("font-family","DejaVu Sans").attr("font-weight","normal");
  });
  return fit(t,o.w);
}
[["A",2,530],["B",930,530],["C",2,1175],["D",932,1175],["E",2,1824],["F",932,1824]].forEach(([s,x,y])=>txt(x,y,s,{size:60,bold:true}));

// ---- Panel A
(function(){
  const L={l:78.6,r:908,t:3.4,b:361};
  const x=d3.scaleLinear([-10,10],[288.7,772.3]), y=d3.scaleLinear([-4,4],[254.8,61.3]);
  const g=svg.append("g");
  g.append("rect").attr("x",L.l).attr("y",L.t).attr("width",L.r-L.l).attr("height",L.b-L.t).attr("fill","#E9E9E9");
  const vl=(arr,w)=>g.selectAll(null).data(arr).join("line").attr("x1",x).attr("x2",x).attr("y1",L.t).attr("y2",L.b).attr("stroke","#fff").attr("stroke-width",w);
  const hl=(arr,w)=>g.selectAll(null).data(arr).join("line").attr("y1",y).attr("y2",y).attr("x1",L.l).attr("x2",L.r).attr("stroke","#fff").attr("stroke-width",w);
  vl(pcaXMinor,1.2);hl(pcaYMinor,1.2);vl(pcaXTicks,2.4);hl(pcaYTicks,2.4);
  g.selectAll(null).data(pc1).join("circle").attr("cx",d=>x(d)).attr("cy",(d,i)=>y(pc2[i])).attr("r",8.4).attr("fill",(d,i)=>groupColors[pcaGroup[i]]).attr("stroke","#fff").attr("stroke-width",.6);
  const ax=svg.append("g").attr("transform",`translate(0,${L.b})`).call(d3.axisBottom(x).tickValues(pcaXTicks).tickSize(4).tickFormat(d=>String(d)).tickPadding(7));
  const ay=svg.append("g").attr("transform",`translate(${L.l},0)`).call(d3.axisLeft(y).tickValues(pcaYTicks).tickSize(4).tickFormat(d=>String(d)).tickPadding(8));
  [ax,ay].forEach(a=>{a.select(".domain").remove();a.selectAll("line").attr("stroke","#333").attr("stroke-width",1.5);a.selectAll("text").attr("font-size",24).attr("fill","#222");});
  ax.selectAll("text").attr("dy","0.71em").attr("dx",d=>d===10?15:(d===-10?-4:0)).attr("y",d=>d===10?19:10);
  ay.selectAll("text").attr("dy","0.32em").attr("y",-3);
  txt(460.7,422,"PC1: 79% variance",{size:27,bold:true,anchor:"middle",w:260});
  svg.append("text").attr("transform","translate(28,171) rotate(-90)").attr("text-anchor","middle").attr("font-size",29).attr("font-weight","bold").text("PC2: 11% variance").attr("textLength",258).attr("lengthAdjust","spacingAndGlyphs");
  const lg=[[203,227.7,203.3],[526.4,550.5,278],[925,948.6,173.4],[1216.5,1241,248.5]];
  groupNames.forEach((n,i)=>{
    svg.append("circle").attr("cx",lg[i][0]).attr("cy",454.5).attr("r",9.5).attr("fill",groupColors[i]);
    txt(lg[i][1],465,n,{size:30,bold:true,w:lg[i][2]});
  });
})();

// ---- Panel B
(function(){
  const col=d3.scaleLinear(heatStops,heatColors);
  const idx=d3.range(12);
  const bx=d3.scaleBand(idx,[1120.5,1482.2]), by=d3.scaleBand(idx,[5.5,399.4]);
  const g=svg.append("g");
  heatRows.forEach((row,r)=>g.selectAll(null).data(row).join("rect")
    .attr("x",(d,c)=>bx(c)).attr("y",by(r)).attr("width",bx.bandwidth()+.5).attr("height",by.bandwidth()+.5).attr("fill",d=>col(d)));
  g.selectAll(null).data(rowGroups).join("circle").attr("cx",1498.6).attr("cy",(d,i)=>by(i)+by.bandwidth()/2).attr("r",7.5).attr("fill",d=>groupColors[d]);
  g.selectAll(null).data(colGroups).join("circle").attr("cy",415).attr("cx",(d,i)=>bx(i)+bx.bandwidth()/2).attr("r",7.5).attr("fill",d=>groupColors[d]);
  const h=d3.scaleLinear([0,283],[1113.2,983.8]);
  const nodes={};
  const pos=k=>typeof k==="number"?{y:by(k)+by.bandwidth()/2,h:0}:nodes[k];
  const link=[];
  dendroMerges.forEach(([n,a,b,ht])=>{
    const A=pos(a),B=pos(b);
    link.push(`M${h(A.h)},${A.y}H${h(ht)}V${B.y}H${h(B.h)}`);
    nodes[n]={y:(A.y+B.y)/2,h:ht};
  });
  g.selectAll(null).data(link).join("path").attr("d",d=>d).attr("fill","none").attr("stroke","#222").attr("stroke-width",1.8);
  const kx=d3.scaleLinear([0,60],[1561.7,1655]), ky=d3.scaleLinear([0,12],[385,299.3]);
  const kr={l:1561.7,r:1673.3,t:298.3,b:385};
  const dom=d3.range(0,kx.invert(kr.r),.5);
  g.selectAll(null).data(dom).join("rect").attr("x",d=>kx(d)).attr("y",kr.t).attr("width",1.4).attr("height",kr.b-kr.t).attr("fill",d=>col(d));
  const step=d3.line().x(d=>kx(d[0])).y(d=>ky(d[1])).curve(d3.curveStepAfter);
  g.append("path").attr("d",step([[0,0]].concat(keySteps,[[kx.invert(kr.r),0]]))).attr("fill","none").attr("stroke","#12F5F0").attr("stroke-width",1.3);
  g.append("rect").attr("x",kr.l).attr("y",kr.t).attr("width",kr.r-kr.l).attr("height",kr.b-kr.t).attr("fill","none").attr("stroke","#666").attr("stroke-width",1.4);
  const ax=svg.append("g").attr("transform",`translate(0,${kr.b})`).call(d3.axisBottom(kx).tickValues(keyXTicks).tickSize(5).tickPadding(3).tickFormat(d=>String(d)));
  const ay=svg.append("g").attr("transform",`translate(${kr.l},0)`).call(d3.axisLeft(ky).tickValues(keyYTicks.concat(keyYMinor)).tickSize(5).tickFormat(d=>keyYTicks.includes(d)?String(d):""));
  [ax,ay].forEach(a=>{a.select(".domain").remove();a.selectAll("line").attr("stroke","#333");a.selectAll("text").attr("font-size",15).attr("fill","#222");});
  ay.selectAll("text").attr("text-anchor","middle").attr("dy",0).attr("x",0).attr("y",0).attr("transform","translate(-12,0) rotate(-90)");
  txt(1615.7,423,"Value",{size:15,bold:true,anchor:"middle"});
  svg.append("text").attr("transform","translate(1532,342) rotate(-90)").attr("text-anchor","middle").attr("font-size",15).attr("font-weight","bold").text("Count");
})();

// ---- Volcano panels
function volcano(o){
  const x=d3.scaleLinear([-3,3],o.xr), y=d3.scaleLinear(o.yd,o.yr);
  const g=svg.append("g");
  const R=o.right, T=o.top, B=o.bottom, Lx=o.left;
  const clipId="clip"+o.id;
  svg.append("clipPath").attr("id",clipId).append("rect").attr("x",Lx).attr("y",T-6).attr("width",R-Lx+4).attr("height",B-T+6);
  const cg=g.append("g").attr("clip-path",`url(#${clipId})`);
  const vl=(arr,w,c)=>cg.selectAll(null).data(arr).join("line").attr("x1",x).attr("x2",x).attr("y1",T).attr("y2",B).attr("stroke",c).attr("stroke-width",w);
  const hl=(arr,w,c)=>cg.selectAll(null).data(arr).join("line").attr("y1",y).attr("y2",y).attr("x1",Lx).attr("x2",R).attr("stroke",c).attr("stroke-width",w);
  vl(fcMinor,1,"#F3F3F3");hl(o.yMinor,1,"#F3F3F3");vl(fcTicks,2,"#EEEEEE");hl(o.yTicks,2,"#EEEEEE");
  const area=d3.line().x(d=>x(d[0])).y(d=>y(d[1])).curve(d3.curveLinearClosed);
  const layer=(mass,pts,c)=>{
    cg.selectAll(null).data(mass).join("path").attr("d",area).attr("fill",c).attr("stroke",c).attr("stroke-width",8).attr("stroke-linejoin","round");
    cg.selectAll(null).data(pts).join("circle").attr("cx",d=>x(d[0])).attr("cy",d=>y(d[1])).attr("r",4.2).attr("fill",c);
  };
  layer(o.grayMass,o.gray||[],classColors.gray);
  layer(o.greenMass,o.green,classColors.green);
  layer(o.blueMass,o.blue,classColors.blue);
  layer(o.redMass,o.red,classColors.red);
  const dash="10,4";
  cg.selectAll(null).data(fcCut).join("line").attr("x1",x).attr("x2",x).attr("y1",T).attr("y2",B).attr("stroke","#111").attr("stroke-width",1.8).attr("stroke-dasharray",dash);
  cg.append("line").attr("x1",Lx).attr("x2",R).attr("y1",y(pCut)).attr("y2",y(pCut)).attr("stroke","#111").attr("stroke-width",1.8).attr("stroke-dasharray",dash);
  const ax=svg.append("g").attr("transform",`translate(0,${B})`).call(d3.axisBottom(x).tickValues(fcTicks).tickSize(0).tickPadding(0).tickFormat(d=>String(d)));
  const ay=svg.append("g").attr("transform",`translate(${Lx},0)`).call(d3.axisLeft(y).tickValues(o.yTicks).tickSize(0).tickPadding(5).tickFormat(o.fmt));
  [ax,ay].forEach(a=>{a.select(".domain").remove();a.selectAll("text").attr("font-size",25).attr("fill","#4D4D4D").attr("font-family","Liberation Sans");});
  ax.selectAll("text").attr("y",7);
  svg.append("line").attr("x1",Lx).attr("x2",Lx).attr("y1",T).attr("y2",B+1).attr("stroke","#111").attr("stroke-width",2.4);
  svg.append("line").attr("x1",Lx).attr("x2",R).attr("y1",B).attr("y2",B).attr("stroke","#111").attr("stroke-width",2.4);
  txt(Lx,o.titleY,o.title,{size:29,bold:true,w:o.titleW});
  txt(Lx,o.titleY+34.5,"Differential expression",{size:28,w:304});
  const xl=svg.append("text").attr("x",o.xlabelX).attr("y",B+52).attr("text-anchor","middle").attr("font-size",26).attr("font-weight","bold");
  xl.append("tspan").text("Log");
  xl.append("tspan").attr("font-size",18).attr("dy",6).text("2");
  xl.append("tspan").attr("dy",-6).text(" fold change");
  const yl=svg.append("text").attr("transform",`translate(${o.ylabelX},${(T+B)/2+o.ylabelOff}) rotate(-90)`).attr("text-anchor","middle").attr("font-size",26);
  yl.append("tspan").attr("fill","#333").text("– ");
  yl.append("tspan").attr("font-weight","bold").attr("fill","#333").text("Log");
  yl.append("tspan").attr("font-size",18).attr("dy",6).attr("fill","#333").text("10");
  yl.append("tspan").attr("dy",-6).attr("font-weight","bold").attr("font-style","italic").attr("fill","#333").text(" P");
}
const f1=d=>String(d), f2=d3.format(".1f");
volcano({id:"C",xr:[107.5,781.4],yd:[0,20],yr:[1064.7,712.8],left:73.6,right:815,top:694,bottom:1082.4,yTicks:[0,5,10,15,20],yMinor:[2.5,7.5,12.5,17.5],fmt:f1,
  red:cRed,blue:cBlue,green:cGreen,redMass:cRedMass,blueMass:cBlueMass,greenMass:cGreenMass,grayMass:cGrayMass,
  title:"OB / Ti Control x OC→OB / Ti Control",titleW:543,titleY:649,xlabelX:447,ylabelX:27,ylabelOff:-2});
volcano({id:"D",xr:[966,1639.6],yd:[0,50],yr:[1064.7,726.2],left:932.3,right:1675,top:694,bottom:1082.4,yTicks:[0,10,20,30,40,50],yMinor:[5,15,25,35,45],fmt:f1,
  red:dRed,blue:dBlue,green:dGreen,redMass:dRedMass,blueMass:dBlueMass,greenMass:dGreenMass,grayMass:dGrayMass,
  title:"OB / Ti Nano x OC→OB / Ti Nano",titleW:478,titleY:649,xlabelX:1306,ylabelX:886,ylabelOff:-2});
volcano({id:"E",xr:[128.6,781.9],yd:[0,10],yr:[1701.7,1349],left:95.8,right:815,top:1331.7,bottom:1718.7,yTicks:[0,2.5,5,7.5,10],yMinor:[1.25,3.75,6.25,8.75],fmt:f2,
  red:eRed,blue:eBlue,green:eGreen,gray:eGray,redMass:eRedMass,blueMass:eBlueMass,greenMass:eGreenMass,grayMass:eGrayMass,
  title:"OB / Ti Control x OB / Ti Nano",titleW:435,titleY:1285.5,xlabelX:459,ylabelX:27,ylabelOff:-3});
volcano({id:"F",xr:[966,1639.6],yd:[0,20],yr:[1701.8,1349.7],left:932.3,right:1675,top:1332,bottom:1719,yTicks:[0,5,10,15,20],yMinor:[2.5,7.5,12.5,17.5],fmt:f1,
  red:fRed,blue:fBlue,green:fGreen,redMass:fRedMass,blueMass:fBlueMass,greenMass:fGreenMass,grayMass:fGrayMass,
  title:"OC→OB / Ti Control x OC→OB / Ti Nano",titleW:587,titleY:1285.5,xlabelX:1306,ylabelX:886,ylabelOff:-3});

(function(){
  const dots=[993.5,1320,1461.8,1615.3], xs=[1012,1337.9,1480,1633], ws=[283,99,108,39];
  volcanoLegend.forEach((d,i)=>{
    svg.append("circle").attr("cx",dots[i]).attr("cy",1865).attr("r",8).attr("fill",classColors[d[3]]);
    const t=svg.append("text").attr("x",xs[i]).attr("y",1874).attr("font-size",27).attr("fill","#222");
    t.append("tspan").text(d[0]);
    if(d[1]){t.append("tspan").attr("font-size",19).attr("dy",6).text(d[1]);t.append("tspan").attr("dy",-6).text(d[2]);}
    t.attr("textLength",ws[i]).attr("lengthAdjust","spacingAndGlyphs");
  });
  txt(1672.8,1914,"total = 21823 variables",{size:26,anchor:"end",fill:"#222",w:306});
})();
</script></body></html>
